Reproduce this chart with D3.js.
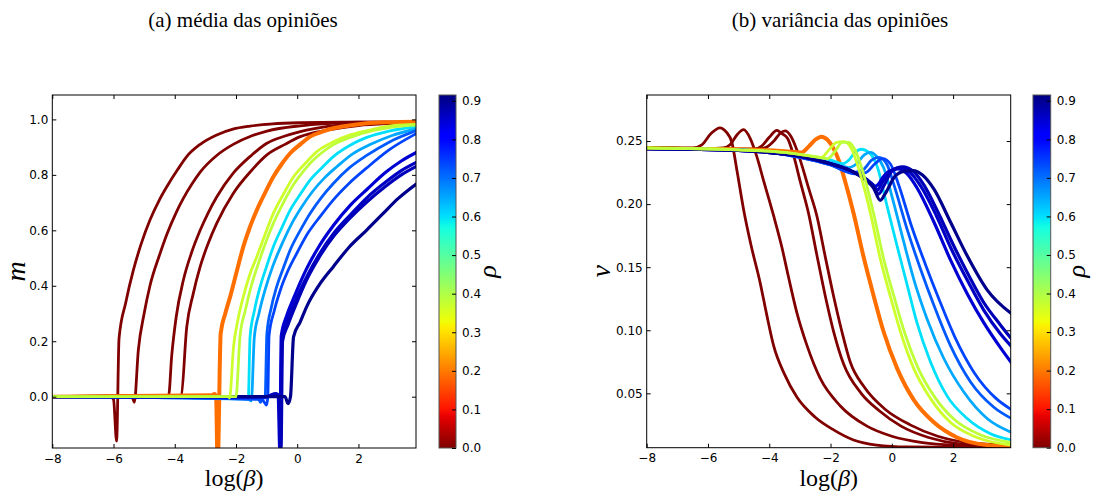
<!DOCTYPE html>
<html><head><meta charset="utf-8">
<script src="https://cdn.jsdelivr.net/npm/d3@7"></script>
<style>body{margin:0;background:#fff} svg{display:block}</style>
</head><body>
<svg id="c" width="1094" height="492"></svg>
<script>
// ---------------- data ----------------
const xTicks = [-8, -6, -4, -2, 0, 2];
const mTicks = [0.0, 0.2, 0.4, 0.6, 0.8, 1.0];
const vTicks = [0.05, 0.10, 0.15, 0.20, 0.25];
const rhoTicks = [0.0, 0.1, 0.2, 0.3, 0.4, 0.5, 0.6, 0.7, 0.8, 0.9];
const titles = ["(a) média das opiniões", "(b) variância das opiniões"];

// rho of every curve (same order in both panels)
const seriesRho = [0.0, 0.0, 0.0, 0.0, 0.19, 0.60, 0.65, 0.72, 0.74, 0.85, 0.86, 0.87, 0.905, 0.368, 0.384];

// mean opinion m vs log(beta)
const m0a = [[-8,0],[-6.1,0],[-6.0,-0.01],[-5.9,-0.16],[-5.82,0.21],[-5.6,0.34],[-5.35,0.457],[-5.1,0.55],[-4.81,0.637],[-4.5,0.71],[-4.26,0.757],[-3.9,0.82],[-3.61,0.866],[-3.17,0.91],[-2.63,0.944],[-2.1,0.965],[-1.54,0.976],[-0.8,0.984],[0.1,0.988],[1.5,0.99],[3.91,0.99]];
const m0b = [[-8,0],[-5.4,0],[-5.32,-0.02],[-5.19,0.168],[-5.0,0.30],[-4.81,0.40],[-4.5,0.51],[-4.26,0.585],[-3.95,0.665],[-3.72,0.715],[-3.45,0.765],[-3.17,0.81],[-2.63,0.87],[-2.09,0.91],[-1.5,0.94],[-0.99,0.958],[0.1,0.977],[1.0,0.985],[2.0,0.99],[3.91,0.99]];
const m0c = [[-8,0],[-4.5,0.005],[-4.2,0.005],[-4.10,0.147],[-3.95,0.29],[-3.72,0.42],[-3.45,0.52],[-3.17,0.60],[-2.9,0.665],[-2.63,0.72],[-2.09,0.806],[-1.5,0.87],[-0.99,0.914],[-0.4,0.94],[0.1,0.956],[1.0,0.975],[2.0,0.985],[3.91,0.99]];
const m0d = [[-8,0],[-3.85,0.003],[-3.79,0.005],[-3.61,0.25],[-3.4,0.37],[-3.17,0.469],[-2.9,0.555],[-2.63,0.625],[-2.09,0.733],[-1.5,0.815],[-0.99,0.872],[-0.4,0.91],[0.1,0.938],[1.0,0.962],[2.0,0.978],[3.0,0.985],[3.91,0.988]];
const m19 = [[-8,0],[-2.8,0.005],[-2.7,0.01],[-2.65,0],[-2.60,-0.25],[-2.50,0.228],[-2.35,0.30],[-2.19,0.361],[-1.98,0.45],[-1.76,0.541],[-1.55,0.61],[-1.32,0.673],[-1.05,0.735],[-0.78,0.793],[-0.5,0.84],[-0.23,0.878],[0.1,0.91],[0.42,0.938],[0.8,0.955],[1.18,0.968],[1.7,0.978],[2.27,0.986],[3.0,0.99],[3.91,0.992]];
const m60 = [[-8,0],[-1.7,-0.005],[-1.6,-0.01],[-1.54,0.216],[-1.4,0.31],[-1.21,0.397],[-1.0,0.47],[-0.78,0.541],[-0.5,0.61],[-0.23,0.673],[0.1,0.73],[0.42,0.781],[0.8,0.825],[1.18,0.866],[1.7,0.905],[2.27,0.935],[3.0,0.958],[3.91,0.974]];
const m65 = [[-8,0],[-1.6,-0.01],[-1.5,-0.015],[-1.40,0.216],[-1.25,0.30],[-1.05,0.385],[-0.8,0.47],[-0.5,0.55],[-0.2,0.62],[0.15,0.685],[0.5,0.74],[0.9,0.79],[1.3,0.83],[1.8,0.875],[2.4,0.91],[3.1,0.942],[3.91,0.966]];
const m72 = [[-8,0],[-1.3,0],[-1.2,-0.02],[-1.1,0],[-1.05,-0.005],[-0.99,0.228],[-0.85,0.32],[-0.67,0.397],[-0.45,0.465],[-0.23,0.529],[0.1,0.60],[0.42,0.661],[0.8,0.72],[1.18,0.769],[1.7,0.825],[2.27,0.87],[3.0,0.918],[3.91,0.96]];
const m74 = [[-8,0],[-1.15,-0.01],[-1.0,-0.03],[-0.96,0.0],[-0.92,0.22],[-0.75,0.31],[-0.55,0.385],[-0.3,0.455],[0.0,0.52],[0.35,0.59],[0.75,0.65],[1.18,0.71],[1.7,0.77],[2.27,0.825],[3.0,0.89],[3.91,0.95]];
const m85 = [[-8,0],[-1.0,0.0],[-0.75,0.01],[-0.62,0.0],[-0.57,-0.19],[-0.52,0.22],[-0.35,0.29],[-0.1,0.36],[0.3,0.46],[0.7,0.54],[1.2,0.62],[1.73,0.69],[2.3,0.75],[2.9,0.81],[3.4,0.85],[3.91,0.882]];
const m86 = [[-8,0],[-1.0,0.0],[-0.7,0.01],[-0.6,0.0],[-0.55,-0.19],[-0.50,0.21],[-0.33,0.27],[-0.1,0.335],[0.3,0.43],[0.7,0.51],[1.2,0.59],[1.73,0.655],[2.3,0.72],[2.9,0.775],[3.4,0.815],[3.91,0.846]];
const m87 = [[-8,0],[-1.0,0.0],[-0.68,0.01],[-0.58,0.0],[-0.53,-0.19],[-0.48,0.20],[-0.3,0.26],[-0.05,0.33],[0.3,0.42],[0.7,0.50],[1.2,0.58],[1.73,0.645],[2.3,0.705],[2.9,0.76],[3.4,0.80],[3.91,0.832]];
const m90 = [[-8,0],[-0.6,0.0],[-0.4,0.0],[-0.3,-0.025],[-0.22,0.0],[-0.12,0.216],[0.1,0.27],[0.31,0.325],[0.7,0.40],[1.18,0.469],[1.7,0.54],[2.27,0.601],[2.8,0.66],[3.3,0.715],[3.91,0.769]];
const m37 = [[-8,0],[-2.25,0],[-2.21,-0.005],[-2.08,0.18],[-1.95,0.27],[-1.76,0.361],[-1.55,0.44],[-1.32,0.505],[-1.05,0.585],[-0.78,0.661],[-0.45,0.73],[-0.12,0.793],[0.25,0.84],[0.64,0.884],[1.2,0.92],[1.73,0.944],[2.5,0.965],[3.2,0.978],[3.91,0.982]];
const m38 = [[-8,0],[-2.05,0],[-2.0,0.0],[-1.87,0.216],[-1.7,0.31],[-1.5,0.40],[-1.3,0.47],[-1.05,0.55],[-0.78,0.625],[-0.45,0.70],[-0.12,0.765],[0.25,0.82],[0.64,0.865],[1.2,0.91],[1.73,0.935],[2.5,0.96],[3.2,0.974],[3.91,0.98]];

// opinion variance v vs log(beta)
const v0a = [[-8,0.245],[-7,0.2445],[-6.5,0.2445],[-6.2,0.247],[-5.9,0.256],[-5.61,0.2605],[-5.4,0.257],[-5.22,0.249],[-5.05,0.226],[-4.84,0.196],[-4.6,0.168],[-4.3,0.138],[-4.08,0.112],[-3.86,0.088],[-3.5,0.065],[-3.1,0.047],[-2.5,0.031],[-1.9,0.021],[-1.25,0.013],[-0.5,0.009],[0.5,0.0075],[3.91,0.007]];
const v0b = [[-8,0.245],[-6,0.244],[-5.5,0.2445],[-5.28,0.247],[-5.05,0.255],[-4.84,0.259],[-4.62,0.252],[-4.41,0.238],[-4.19,0.219],[-3.86,0.191],[-3.59,0.166],[-3.37,0.142],[-3.1,0.114],[-2.77,0.088],[-2.34,0.062],[-1.68,0.040],[-0.81,0.024],[0,0.016],[1,0.011],[2,0.009],[3.91,0.008]];
const v0c = [[-8,0.245],[-5,0.2435],[-4.5,0.2435],[-4.25,0.246],[-4.0,0.253],[-3.75,0.2585],[-3.6,0.256],[-3.4,0.252],[-3.2,0.238],[-2.99,0.218],[-2.72,0.193],[-2.45,0.16],[-2.17,0.127],[-1.9,0.099],[-1.57,0.073],[-1.0,0.05],[-0.4,0.036],[0.3,0.024],[1.2,0.015],[2.2,0.01],[3.91,0.008]];
const v0d = [[-8,0.245],[-5,0.2435],[-4.4,0.2435],[-4.1,0.245],[-3.85,0.25],[-3.65,0.256],[-3.48,0.258],[-3.3,0.254],[-3.1,0.243],[-2.9,0.228],[-2.72,0.213],[-2.45,0.191],[-2.17,0.158],[-1.9,0.127],[-1.63,0.099],[-1.36,0.075],[-0.9,0.055],[-0.2,0.037],[0.6,0.025],[1.5,0.016],[2.5,0.011],[3.91,0.009]];
const v19 = [[-8,0.244],[-5,0.2435],[-3.5,0.242],[-2.95,0.241],[-2.7,0.246],[-2.5,0.251],[-2.3,0.2535],[-2.1,0.251],[-1.9,0.244],[-1.72,0.234],[-1.57,0.222],[-1.25,0.193],[-0.92,0.158],[-0.59,0.127],[-0.27,0.099],[0.17,0.07],[0.71,0.045],[1.37,0.027],[2.13,0.015],[3.11,0.009],[3.91,0.008]];
const v60 = [[-8,0.244],[-5,0.243],[-3,0.239],[-2,0.235],[-1.6,0.232],[-1.4,0.235],[-1.2,0.241],[-1.0,0.2435],[-0.75,0.241],[-0.48,0.23],[-0.16,0.199],[0.17,0.167],[0.5,0.136],[0.82,0.106],[1.26,0.075],[1.8,0.048],[2.46,0.03],[3.22,0.018],[3.91,0.013]];
const v65 = [[-8,0.244],[-5,0.243],[-3,0.238],[-2,0.233],[-1.4,0.229],[-1.15,0.232],[-0.9,0.239],[-0.7,0.241],[-0.5,0.238],[-0.27,0.229],[0.06,0.201],[0.39,0.17],[0.71,0.141],[1.15,0.109],[1.69,0.078],[2.35,0.051],[3.11,0.03],[3.91,0.019]];
const v72 = [[-8,0.244],[-5,0.243],[-3,0.237],[-2,0.231],[-1.3,0.225],[-0.95,0.227],[-0.65,0.235],[-0.42,0.237],[-0.15,0.231],[0.06,0.216],[0.5,0.18],[0.93,0.149],[1.37,0.12],[1.91,0.088],[2.57,0.059],[3.33,0.039],[3.91,0.03]];
const v74 = [[-8,0.244],[-5,0.243],[-3,0.237],[-2,0.231],[-1.2,0.224],[-0.85,0.225],[-0.55,0.232],[-0.3,0.236],[-0.05,0.232],[0.2,0.217],[0.65,0.182],[1.1,0.152],[1.55,0.124],[2.05,0.095],[2.7,0.066],[3.4,0.046],[3.91,0.037]];
const v85 = [[-8,0.244],[-5,0.2425],[-3,0.238],[-2,0.232],[-1.3,0.226],[-0.8,0.219],[-0.55,0.214],[-0.45,0.2155],[-0.3,0.221],[-0.1,0.226],[0.2,0.228],[0.5,0.224],[0.82,0.213],[1.37,0.186],[1.91,0.156],[2.46,0.129],[3.0,0.106],[3.55,0.086],[3.91,0.074]];
const v86 = [[-8,0.244],[-5,0.2425],[-3,0.238],[-2,0.232],[-1.3,0.226],[-0.8,0.219],[-0.6,0.215],[-0.47,0.211],[-0.32,0.217],[-0.05,0.226],[0.28,0.229],[0.6,0.225],[0.95,0.214],[1.45,0.191],[1.95,0.164],[2.5,0.138],[3.0,0.116],[3.55,0.097],[3.91,0.087]];
const v87 = [[-8,0.244],[-5,0.2425],[-3,0.238],[-2,0.232],[-1.3,0.226],[-0.8,0.219],[-0.6,0.214],[-0.43,0.208],[-0.25,0.215],[0.0,0.226],[0.35,0.2295],[0.7,0.226],[1.05,0.215],[1.5,0.194],[2.0,0.168],[2.5,0.144],[3.0,0.122],[3.55,0.104],[3.91,0.093]];
const v90 = [[-8,0.244],[-5,0.2425],[-3,0.238],[-2,0.232],[-1.3,0.226],[-0.8,0.218],[-0.6,0.213],[-0.38,0.203],[-0.2,0.209],[0.1,0.222],[0.4,0.226],[0.7,0.2265],[1.0,0.223],[1.37,0.212],[1.91,0.186],[2.46,0.159],[3.11,0.132],[3.91,0.113]];
const v37 = [[-8,0.2445],[-5,0.243],[-3.5,0.241],[-2.6,0.238],[-2.3,0.237],[-2.05,0.243],[-1.8,0.249],[-1.55,0.2495],[-1.32,0.244],[-1.03,0.224],[-0.7,0.193],[-0.38,0.157],[-0.05,0.127],[0.28,0.099],[0.71,0.07],[1.26,0.046],[1.91,0.027],[2.78,0.015],[3.91,0.009]];
const v38 = [[-8,0.2445],[-5,0.243],[-3.5,0.241],[-2.5,0.2375],[-2.1,0.236],[-1.85,0.242],[-1.62,0.249],[-1.4,0.249],[-1.18,0.242],[-0.9,0.222],[-0.57,0.19],[-0.25,0.155],[0.08,0.126],[0.42,0.098],[0.86,0.07],[1.4,0.047],[2.05,0.029],[2.9,0.017],[3.91,0.011]];

const mSeries = [m0a, m0b, m0c, m0d, m19, m60, m65, m72, m74, m85, m86, m87, m90, m37, m38];
const vSeries = [v0a, v0b, v0c, v0d, v19, v60, v65, v72, v74, v85, v86, v87, v90, v37, v38];

// ---------------- drawing ----------------
const svg = d3.select("#c");
const RHO_MAX = 0.915;
const rS = d3.scaleLinear().domain([0,0.35,0.66,0.89,1]).range([0,0,1,1,0.5]).clamp(true);
const gS = d3.scaleLinear().domain([0,0.125,0.375,0.64,0.91,1]).range([0,0,1,1,0,0]).clamp(true);
const bS = d3.scaleLinear().domain([0,0.11,0.34,0.65,1]).range([0.5,1,1,0,0]).clamp(true);
function jet(t){ return d3.rgb(255*rS(t), 255*gS(t), 255*bS(t)).formatHex(); }
function rhoColor(r){ return jet(1 - r / RHO_MAX); }

const tickFont = "DejaVu Sans, sans-serif";
const fmtMinus = d => (d < 0 ? "\u2212" + Math.abs(d) : String(d));

// gradient for colorbars
const defs = svg.append("defs");
const grad = defs.append("linearGradient").attr("id","jetg").attr("x1",0).attr("y1",1).attr("x2",0).attr("y2",0);
d3.range(0, 1.0001, 0.01).forEach(f => {
  grad.append("stop").attr("offset", f).attr("stop-color", rhoColor(f * RHO_MAX));
});

const panels = [
  { x0: 52.3, x1: 416, y0: 95, y1: 448, yDom: [-0.185, 1.088], yTicks: mTicks, yFmt: d3.format(".1f"),
    data: mSeries, cb: [439, 456], ylab: "m", ylabX: 18, cbLabX: 493, titleX: 243, id: "a" },
  { x0: 646.7, x1: 1010.7, y0: 95, y1: 447.7, yDom: [0.0069, 0.2865], yTicks: vTicks, yFmt: d3.format(".2f"),
    data: vSeries, cb: [1033, 1050.7], ylab: "v", ylabX: 603, cbLabX: 1082, titleX: 840, id: "b" }
];

panels.forEach((p, pi) => {
  const x = d3.scaleLinear().domain([-8, 3.88]).range([p.x0, p.x1]);
  const y = d3.scaleLinear().domain(p.yDom).range([p.y1, p.y0]);
  const g = svg.append("g");

  defs.append("clipPath").attr("id", "clip" + p.id)
    .append("rect").attr("x", p.x0).attr("y", p.y0).attr("width", p.x1 - p.x0).attr("height", p.y1 - p.y0);

  const line = d3.line().x(d => x(d[0])).y(d => y(d[1])).curve(d3.curveMonotoneX);
  const lg = g.append("g").attr("clip-path", `url(#clip${p.id})`);
  p.data.forEach((s, i) => {
    const r = seriesRho[i];
    lg.append("path").attr("d", line(s)).attr("fill", "none")
      .attr("stroke", rhoColor(r))
      .attr("stroke-width", (r > 0.15 && r < 0.25) ? 4 : (r > 0.8 ? 3.2 : 2.8))
      .attr("stroke-linejoin", "round");
  });

  // axes (inward ticks on all sides)
  const ax = (gen, tx, ty) => {
    const a = g.append("g").attr("transform", `translate(${tx},${ty})`).call(gen);
    a.select(".domain").remove();
    a.selectAll("text").attr("font-family", tickFont).attr("font-size", 12).attr("fill", "#000");
    a.selectAll("line").attr("stroke", "#000");
    return a;
  };
  ax(d3.axisBottom(x).tickValues(xTicks).tickSize(-4).tickPadding(6).tickFormat(fmtMinus), 0, p.y1);
  ax(d3.axisTop(x).tickValues(xTicks).tickSize(-4).tickFormat(""), 0, p.y0);
  ax(d3.axisLeft(y).tickValues(p.yTicks).tickSize(-4).tickPadding(4).tickFormat(p.yFmt), p.x0, 0);
  ax(d3.axisRight(y).tickValues(p.yTicks).tickSize(-4).tickFormat(""), p.x1, 0);

  g.append("rect").attr("x", p.x0).attr("y", p.y0).attr("width", p.x1 - p.x0).attr("height", p.y1 - p.y0)
    .attr("fill", "none").attr("stroke", "#000").attr("stroke-width", 1);

  // axis labels
  const xl = g.append("text").attr("x", (p.x0 + p.x1) / 2).attr("y", 486).attr("text-anchor", "middle")
    .attr("font-family", "Liberation Serif, serif").attr("font-size", 24).attr("fill", "#000");
  xl.append("tspan").text("log(");
  xl.append("tspan").attr("font-style", "italic").text("β");
  xl.append("tspan").text(")");

  g.append("text").attr("transform", `translate(${p.ylabX + 7},${(p.y0 + p.y1) / 2}) rotate(-90)`)
    .attr("text-anchor", "middle").attr("font-family", "Liberation Serif, serif").attr("font-style", "italic")
    .attr("font-size", 28).attr("fill", "#000").text(p.ylab);

  // colorbar
  const cy = d3.scaleLinear().domain([0, RHO_MAX]).range([p.y1, p.y0]);
  g.append("rect").attr("x", p.cb[0]).attr("y", p.y0).attr("width", p.cb[1] - p.cb[0]).attr("height", p.y1 - p.y0)
    .attr("fill", "url(#jetg)").attr("stroke", "#555").attr("stroke-width", 1);
  ax(d3.axisRight(cy).tickValues(rhoTicks).tickSize(-4).tickPadding(6).tickFormat(d3.format(".1f")), p.cb[1], 0);

  g.append("text").attr("transform", `translate(${p.cbLabX + 3},${(p.y0 + p.y1) / 2}) rotate(-90)`)
    .attr("text-anchor", "middle").attr("font-family", "Liberation Serif, serif").attr("font-style", "italic")
    .attr("font-size", 26).attr("fill", "#000").text("ρ");

  // title
  svg.append("text").attr("x", p.titleX).attr("y", 27).attr("text-anchor", "middle")
    .attr("font-family", "Liberation Serif, serif").attr("font-size", 21).attr("fill", "#000").text(titles[pi]);
});
</script>
</body></html>
